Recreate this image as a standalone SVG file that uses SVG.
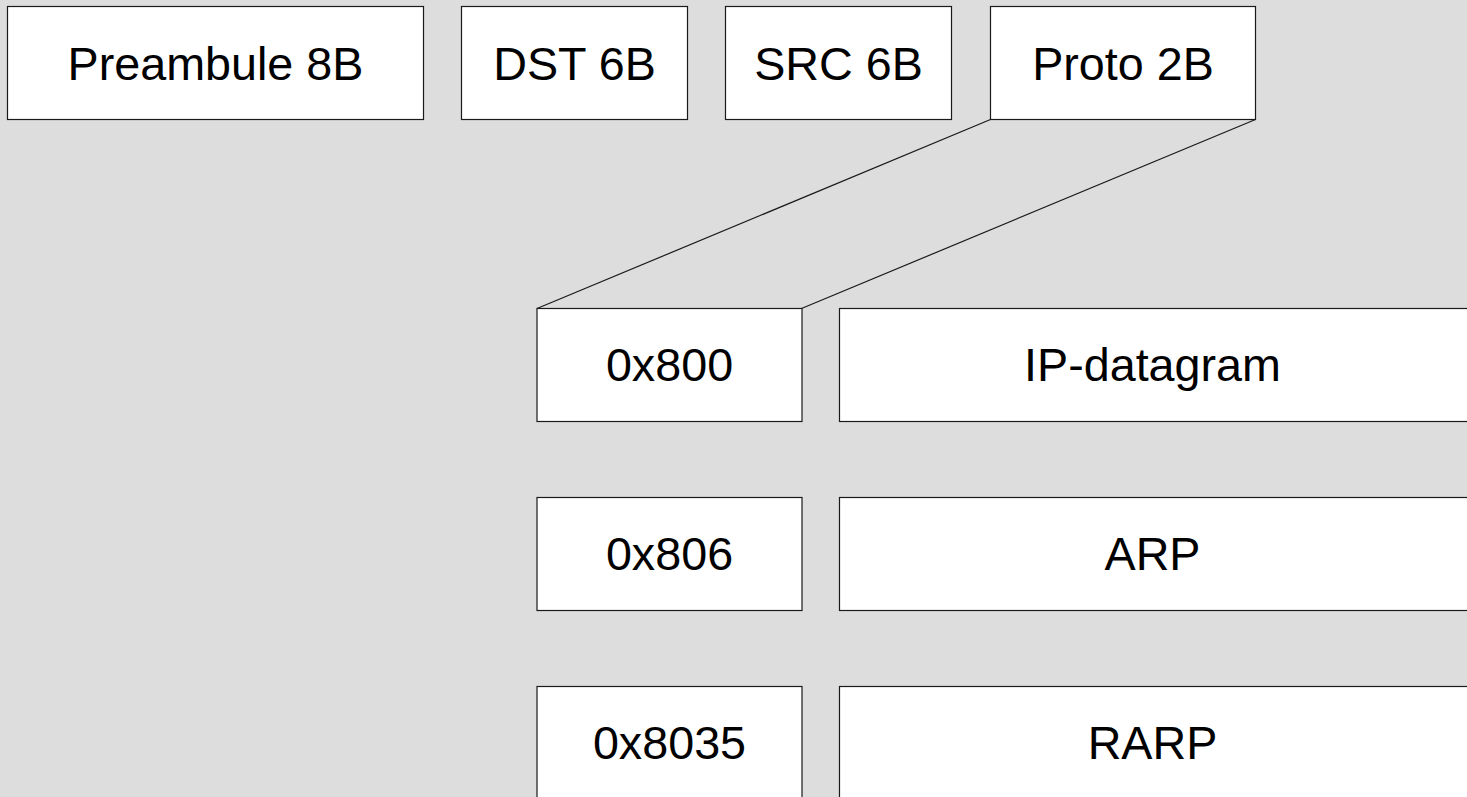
<svg xmlns="http://www.w3.org/2000/svg" width="1467" height="797" viewBox="0 0 1467 797">
<style>
.box{fill:#ffffff;stroke:#1a1a1a;stroke-width:1.2}
.lbl{font-family:"Liberation Sans",Arial,sans-serif;font-size:46.7px;fill:#000;text-anchor:middle}
.con{stroke:#1a1a1a;stroke-width:1.2;fill:none}
</style>
<rect x="0" y="0" width="1467" height="797" fill="#dddddd"/>
<g id="preambule"><rect class="box" x="7.5" y="6.5" width="416" height="113"/><text class="lbl" x="215.5" y="80">Preambule 8B</text></g>
<g id="dst"><rect class="box" x="461.5" y="6.5" width="226" height="113"/><text class="lbl" x="574.5" y="80">DST 6B</text></g>
<g id="src"><rect class="box" x="725.5" y="6.5" width="226" height="113"/><text class="lbl" x="838.5" y="80">SRC 6B</text></g>
<g id="proto"><rect class="box" x="990.5" y="6.5" width="265" height="113"/><text class="lbl" x="1123" y="80">Proto 2B</text></g>
<g id="connectors">
<line class="con" x1="990.5" y1="119.5" x2="537" y2="308.5"/>
<line class="con" x1="1255.5" y1="119.5" x2="801.5" y2="308.5"/>
</g>
<g id="t0x800"><rect class="box" x="537" y="308.5" width="265" height="113"/><text class="lbl" x="669.5" y="381">0x800</text></g>
<g id="ip"><rect class="box" x="839.5" y="308.5" width="630" height="113"/><text class="lbl" x="1152.5" y="381">IP-datagram</text></g>
<g id="t0x806"><rect class="box" x="537" y="497.5" width="265" height="113"/><text class="lbl" x="669.5" y="570">0x806</text></g>
<g id="arp"><rect class="box" x="839.5" y="497.5" width="630" height="113"/><text class="lbl" x="1152.5" y="570">ARP</text></g>
<g id="t0x8035"><rect class="box" x="537" y="686.5" width="265" height="113"/><text class="lbl" x="669.5" y="759">0x8035</text></g>
<g id="rarp"><rect class="box" x="839.5" y="686.5" width="630" height="113"/><text class="lbl" x="1152.5" y="759">RARP</text></g>
</svg>
